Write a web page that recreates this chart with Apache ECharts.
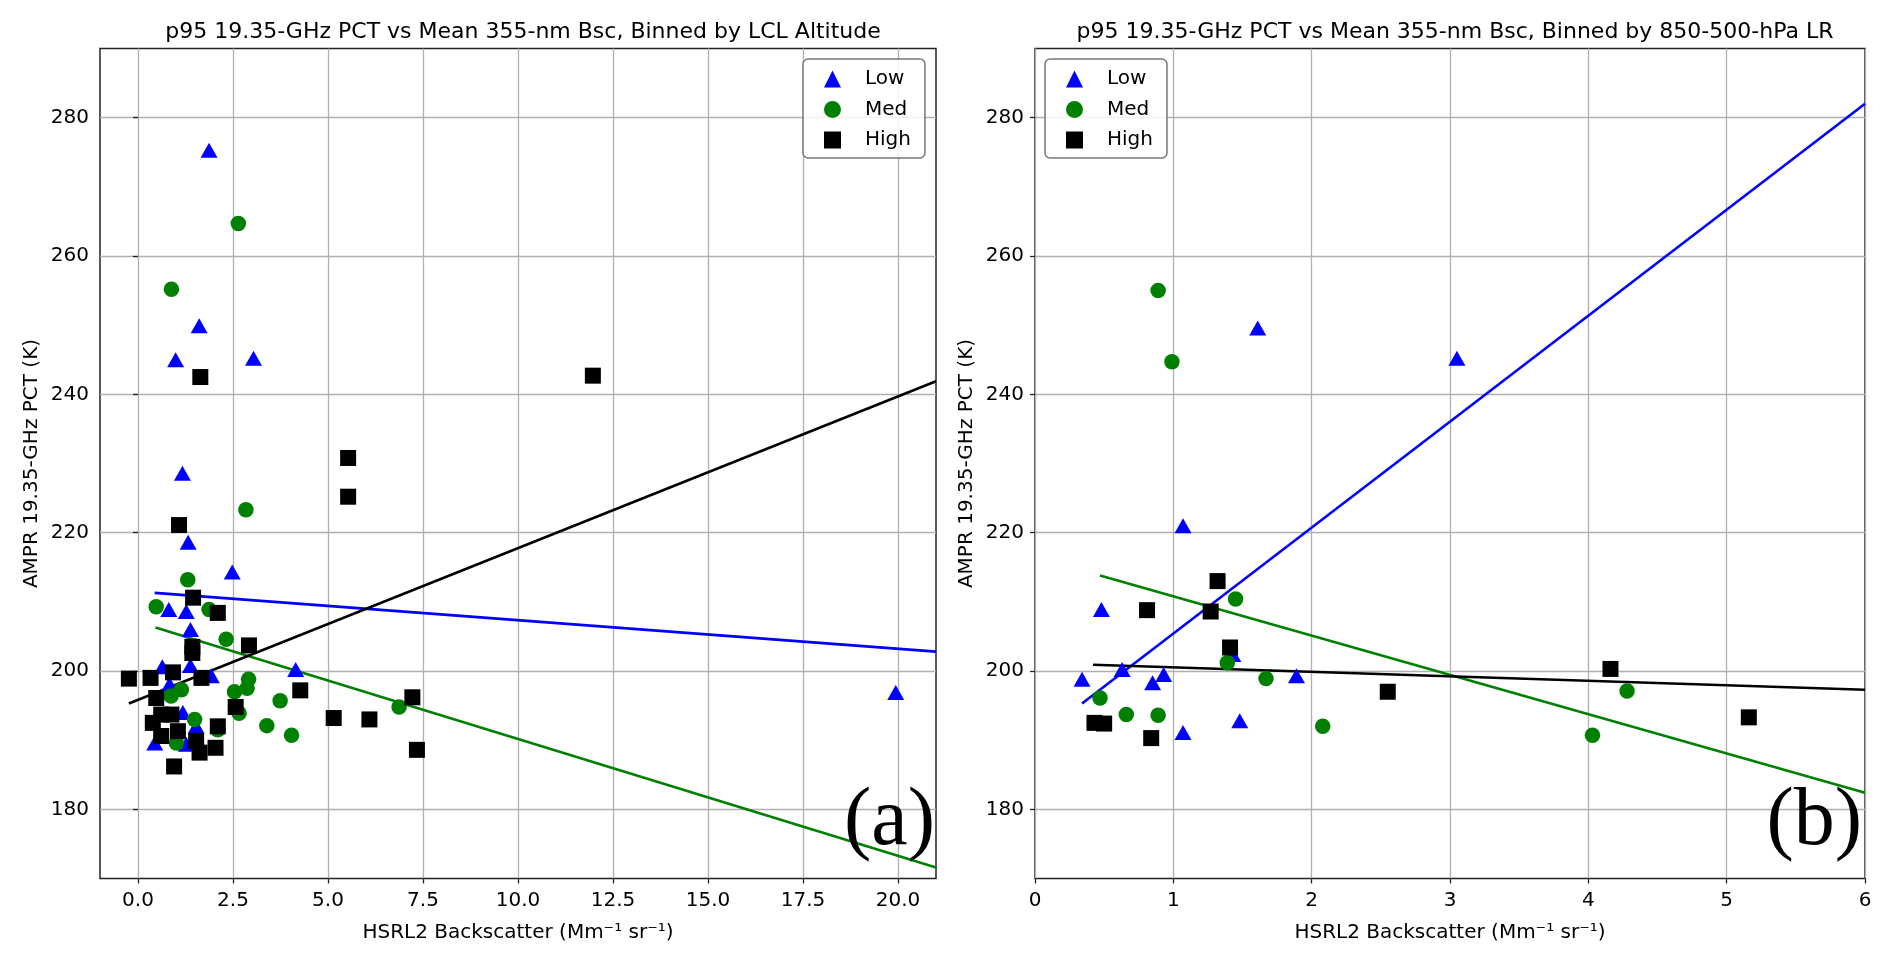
<!DOCTYPE html>
<html>
<head>
<meta charset="utf-8">
<script src="https://cdn.jsdelivr.net/npm/echarts@6/dist/echarts.min.js"></script>
<style>
html,body{margin:0;padding:0;background:#fff;}
#chart{width:1892px;height:961px;}
</style>
</head>
<body>
<div id="chart"></div>
<script>
// ---------- data ----------
const titleA = 'p95 19.35-GHz PCT vs Mean 355-nm Bsc, Binned by LCL Altitude';
const titleB = 'p95 19.35-GHz PCT vs Mean 355-nm Bsc, Binned by 850-500-hPa LR';
const xName = 'HSRL2 Backscatter (Mm\u207B\u00B9 sr\u207B\u00B9)';
const yName = 'AMPR 19.35-GHz PCT (K)';
const groupNames = ['Low', 'Med', 'High'];

const xRangeA = [-1, 21];
const xRangeB = [0, 6];
const yRange = [170, 290];
const xTicksA = [0, 2.5, 5, 7.5, 10, 12.5, 15, 17.5, 20];
const xTicksB = [0, 1, 2, 3, 4, 5, 6];
const yTicks = [180, 200, 220, 240, 260, 280];

// Panel (a): binned by LCL altitude
const lowA = [[1.87,275.3],[1.61,249.9],[0.99,245.0],[3.04,245.2],[1.17,228.6],[1.32,218.6],[2.48,214.3],[0.81,208.9],[1.27,208.6],[1.38,206.0],[0.64,200.6],[1.38,200.8],[1.93,199.3],[4.15,200.2],[0.83,198.1],[1.18,194.0],[1.53,192.0],[0.44,189.6],[1.27,189.4],[19.94,196.9]];
const medA = [[2.64,264.7],[0.88,255.2],[2.84,223.3],[1.31,213.2],[0.48,209.3],[1.87,208.9],[2.32,204.6],[2.91,198.8],[2.87,197.5],[2.54,197.0],[3.74,195.7],[1.14,197.3],[0.87,196.4],[1.49,193.0],[2.66,193.9],[3.39,192.1],[4.04,190.7],[2.10,191.5],[1.01,189.6],[6.87,194.8]];
const highA = [[1.64,242.5],[11.97,242.7],[5.53,230.8],[5.53,225.2],[1.08,221.1],[1.45,210.6],[2.10,208.4],[2.92,203.7],[1.43,203.5],[1.43,202.6],[-0.24,198.9],[0.33,199.0],[0.92,199.8],[1.67,199.0],[0.48,196.1],[4.27,197.2],[2.57,194.8],[5.15,193.2],[6.09,193.0],[7.22,196.2],[7.34,188.6],[0.61,193.7],[0.88,193.7],[0.39,192.5],[1.05,191.3],[0.61,190.6],[2.10,192.0],[1.53,189.9],[1.62,188.2],[2.04,188.9],[0.95,186.2]];
const fitLowA = [[0.44,211.3],[21,202.8]];
const fitMedA = [[0.46,206.3],[21,171.6]];
const fitHighA = [[-0.24,195.3],[21,241.9]];

// Panel (b): binned by 850-500-hPa lapse rate
const lowB = [[1.61,249.6],[3.05,245.2],[1.07,221.0],[0.48,208.9],[0.63,200.2],[0.34,198.8],[0.85,198.3],[0.93,199.5],[1.07,191.1],[1.48,192.8],[1.89,199.3],[1.43,202.4]];
const medB = [[0.89,255.0],[0.99,244.7],[0.47,196.1],[0.66,193.7],[0.89,193.6],[1.45,210.4],[1.39,201.2],[1.67,198.9],[2.08,192.0],[4.03,190.7],[4.28,197.1]];
const highB = [[0.43,192.5],[0.50,192.4],[0.84,190.3],[0.81,208.8],[1.32,213.0],[1.27,208.6],[1.41,203.4],[2.55,197.0],[4.16,200.3],[5.16,193.3]];
const fitLowB = [[0.34,195.3],[6,282.0]];
const fitMedB = [[0.47,213.8],[6,182.4]];
const fitHighB = [[0.42,200.9],[6,197.3]];

// ---------- styling ----------
const FONT = 'DejaVu Sans';
const colors = {Low:'#0000ff', Med:'#008000', High:'#000000'};
const symbols = {Low:'triangle', Med:'circle', High:'rect'};
const symSizes = {Low:[17,15], Med:15.5, High:16};

function xAxisFor(gi, range, ticks, fmt) {
  return {
    gridIndex: gi, type: 'value', min: range[0], max: range[1],
    axisLine: {show: false},
    axisTick: {show: true, customValues: ticks, length: 5, lineStyle: {color: '#222', width: 1.3}},
    axisLabel: {customValues: ticks, formatter: fmt, fontSize: 20, fontFamily: FONT, color: '#000', margin: 12},
    splitLine: {show: true, lineStyle: {color: '#b0b0b0', width: 1.3}},
    name: xName, nameLocation: 'middle', nameGap: 44,
    nameTextStyle: {fontSize: 20, fontFamily: FONT, color: '#000'}
  };
}
function yAxisFor(gi) {
  return {
    gridIndex: gi, type: 'value', min: yRange[0], max: yRange[1],
    axisLine: {show: false},
    axisTick: {show: true, customValues: yTicks, length: 5, lineStyle: {color: '#222', width: 1.3}},
    axisLabel: {customValues: yTicks, fontSize: 20, fontFamily: FONT, color: '#000', margin: 11},
    splitLine: {show: true, lineStyle: {color: '#b0b0b0', width: 1.3}},
    name: yName, nameLocation: 'middle', nameGap: 58,
    nameTextStyle: {fontSize: 20, fontFamily: FONT, color: '#000'}
  };
}
function scatter(name, gi, data) {
  return {
    type: 'scatter', name: name, xAxisIndex: gi, yAxisIndex: gi, data: data,
    symbol: symbols[name], symbolSize: symSizes[name],
    itemStyle: {color: colors[name], opacity: 1},
    emphasis: {disabled: true}, silent: true
  };
}
function fit(name, gi, data) {
  return {
    type: 'line', name: name + ' fit', xAxisIndex: gi, yAxisIndex: gi, data: data,
    showSymbol: false, symbol: 'none',
    lineStyle: {color: colors[name], width: 2.6},
    emphasis: {disabled: true}, silent: true, z: 2
  };
}
function legendFor(left) {
  return {
    left: left, top: 59, orient: 'vertical', data: groupNames,
    itemWidth: 17, itemHeight: 17, itemGap: 10.5,
    padding: [10, 14, 8, 21],
    textStyle: {fontSize: 20, fontFamily: FONT, color: '#000', lineHeight: 20, padding: [0, 0, 0, 19]},
    borderColor: '#777', borderWidth: 1.5, borderRadius: 5,
    backgroundColor: 'rgba(255,255,255,0.85)', selectedMode: false
  };
}

const chart = echarts.init(document.getElementById('chart'), null, {renderer: 'canvas'});
chart.setOption({
  animation: false,
  backgroundColor: '#fff',
  title: [
    {text: titleA, left: 518, top: 16, textAlign: 'center', textStyle: {fontSize: 22, fontWeight: 'normal', fontFamily: FONT, color: '#000'}},
    {text: titleB, left: 1450, top: 16, textAlign: 'center', textStyle: {fontSize: 22, fontWeight: 'normal', fontFamily: FONT, color: '#000'}}
  ],
  legend: [legendFor(803), legendFor(1045)],
  grid: [
    {left: 100, top: 48.5, width: 836, height: 830, show: true, borderColor: '#222', borderWidth: 1.5, backgroundColor: 'transparent'},
    {left: 1035, top: 48.5, width: 830, height: 830, show: true, borderColor: '#222', borderWidth: 1.5, backgroundColor: 'transparent'}
  ],
  xAxis: [
    xAxisFor(0, xRangeA, xTicksA, v => v.toFixed(1)),
    xAxisFor(1, xRangeB, xTicksB, v => String(v))
  ],
  yAxis: [yAxisFor(0), yAxisFor(1)],
  graphic: [
    {type: 'text', x: 935, y: 863, z: 100, style: {text: '(a)', font: '82px "Liberation Serif"', fill: '#000', align: 'right', verticalAlign: 'bottom'}},
    {type: 'text', x: 1862, y: 863, z: 100, style: {text: '(b)', font: '82px "Liberation Serif"', fill: '#000', align: 'right', verticalAlign: 'bottom'}}
  ],
  series: [
    scatter('Low', 0, lowA), fit('Low', 0, fitLowA),
    scatter('Med', 0, medA), fit('Med', 0, fitMedA),
    scatter('High', 0, highA), fit('High', 0, fitHighA),
    scatter('Low', 1, lowB), fit('Low', 1, fitLowB),
    scatter('Med', 1, medB), fit('Med', 1, fitMedB),
    scatter('High', 1, highB), fit('High', 1, fitHighB)
  ]
});
</script>
</body>
</html>
